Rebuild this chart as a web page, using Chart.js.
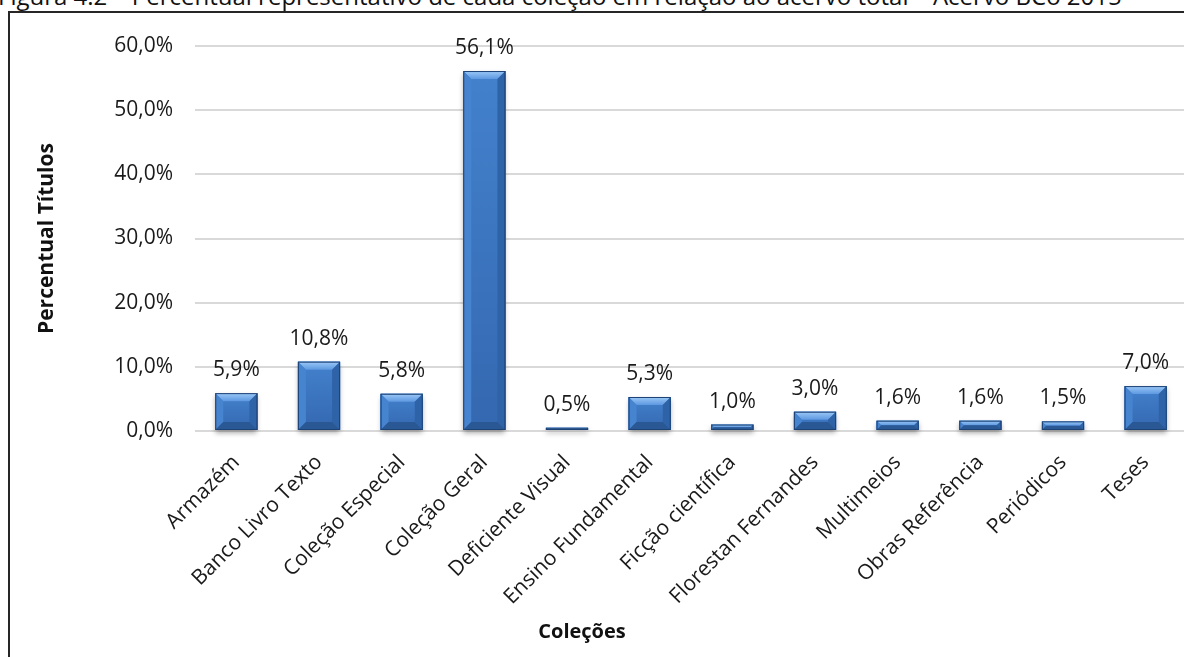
<!DOCTYPE html>
<html lang="pt-BR">
<head>
<meta charset="utf-8">
<title>Percentual por coleção</title>
<script src="https://cdn.jsdelivr.net/npm/chart.js@4"></script>
<style>
  html, body {
    margin: 0;
    padding: 0;
    width: 1184px;
    height: 657px;
    overflow: hidden;
    background: #fff;
  }
  .caption {
    position: absolute;
    left: -2px;
    top: -16px;
    font-family: "Open Sans", sans-serif;
    font-size: 24px;
    line-height: 24px;
    color: #111;
    white-space: nowrap;
  }
  .frame {
    position: absolute;
    left: 8px;
    top: 11px;
    width: 1400px;
    height: 900px;
    border-left: 2px solid #262626;
    border-top: 2px solid #262626;
  }
  .chart-wrap {
    position: absolute;
    left: 0;
    top: 0;
    width: 1192px;
    height: 657px;
  }
</style>
</head>
<body>
<div class="caption">Figura 4.2 – Percentual representativo de cada coleção em relação ao acervo total – Acervo BCo 2015</div>
<div class="frame"></div>
<div class="chart-wrap">
  <canvas id="colecoesChart" width="1192" height="657"></canvas>
</div>

<script>
const colecoes = [
  "Armazém", "Banco Livro Texto", "Coleção Especial", "Coleção Geral",
  "Deficiente Visual", "Ensino Fundamental", "Ficção científica",
  "Florestan Fernandes", "Multimeios", "Obras Referência", "Periódicos", "Teses"
];
const percentuais = [5.9, 10.8, 5.8, 56.1, 0.5, 5.3, 1.0, 3.0, 1.6, 1.6, 1.5, 7.0];
const yTicks = [0, 10, 20, 30, 40, 50, 60];

const FONT = '"Open Sans", sans-serif';

function fmtPct(v) {
  return v.toFixed(1).replace(".", ",") + "%";
}

// soft shadow behind each bar, drawn before the bars
const barShadow = {
  id: "barShadow",
  beforeDatasetsDraw(chart) {
    const ctx = chart.ctx;
    chart.getDatasetMeta(0).data.forEach((bar) => {
      const w = bar.width;
      ctx.save();
      ctx.shadowColor = "rgba(0,0,0,0.35)";
      ctx.shadowBlur = 5;
      ctx.shadowOffsetY = 3;
      ctx.fillStyle = "#2f5f9f";
      ctx.fillRect(bar.x - w / 2, bar.y, w, bar.base - bar.y);
      ctx.restore();
    });
  }
};

// bevelled faces over each bar
const barBevel = {
  id: "barBevel",
  afterDatasetsDraw(chart) {
    const ctx = chart.ctx;
    chart.getDatasetMeta(0).data.forEach((bar) => {
      const w = bar.width;
      const l = bar.x - w / 2, r = bar.x + w / 2;
      const t = bar.y, b = bar.base;
      const h = b - t;
      const s = Math.min(8, h / 2);

      const face = ctx.createLinearGradient(0, t, 0, b);
      face.addColorStop(0, "#4381cd");
      face.addColorStop(1, "#3468b0");
      ctx.fillStyle = face;
      ctx.fillRect(l, t, w, h);

      const poly = (pts, fill) => {
        ctx.beginPath();
        ctx.moveTo(pts[0][0], pts[0][1]);
        for (let i = 1; i < pts.length; i++) ctx.lineTo(pts[i][0], pts[i][1]);
        ctx.closePath();
        ctx.fillStyle = fill;
        ctx.fill();
      };

      const top = ctx.createLinearGradient(0, t, 0, t + s);
      top.addColorStop(0, "#9cc9f7");
      top.addColorStop(1, "#5d98e0");
      poly([[l, t], [r, t], [r - s, t + s], [l + s, t + s]], top);
      poly([[l, t], [l + s, t + s], [l + s, b - s], [l, b]], "#4784cf");
      poly([[r, t], [r, b], [r - s, b - s], [r - s, t + s]], "#2f63a8");
      poly([[l, b], [l + s, b - s], [r - s, b - s], [r, b]], "#2a5894");

      ctx.strokeStyle = "#1d4275";
      ctx.lineWidth = 1;
      ctx.strokeRect(l + 0.5, t + 0.5, w - 1, h - 1);
    });
  }
};

// value labels above bars
const valueLabels = {
  id: "valueLabels",
  afterDatasetsDraw(chart) {
    const ctx = chart.ctx;
    ctx.save();
    ctx.font = "21px " + FONT;
    ctx.fillStyle = "#1a1a1a";
    ctx.textAlign = "center";
    ctx.textBaseline = "alphabetic";
    chart.getDatasetMeta(0).data.forEach((bar, i) => {
      ctx.fillText(fmtPct(percentuais[i]), bar.x, bar.y - 17);
    });
    ctx.restore();
  }
};

// x axis title sits under the labels, left of the plot centre
const xAxisTitle = {
  id: "xAxisTitle",
  afterDraw(chart) {
    const ctx = chart.ctx;
    ctx.save();
    ctx.font = "bold 20px " + FONT;
    ctx.fillStyle = "#111";
    ctx.textAlign = "center";
    ctx.textBaseline = "middle";
    ctx.fillText("Coleções", 582, 632);
    ctx.restore();
  }
};

new Chart(document.getElementById("colecoesChart").getContext("2d"), {
  type: "bar",
  data: {
    labels: colecoes,
    datasets: [{
      label: "Percentual Títulos",
      data: percentuais,
      backgroundColor: "#3b75c2",
      borderWidth: 0,
      categoryPercentage: 1,
      barPercentage: 0.51
    }]
  },
  options: {
    responsive: false,
    animation: false,
    events: [],
    layout: { padding: { left: 28, right: 5, top: 46, bottom: 0 } },
    plugins: {
      legend: { display: false },
      tooltip: { enabled: false }
    },
    scales: {
      x: {
        grid: { display: false, drawTicks: false },
        border: { display: false },
        ticks: {
          color: "#1a1a1a",
          font: { family: FONT, size: 21 },
          maxRotation: 45,
          minRotation: 45,
          autoSkip: false,
          padding: 19
        },
        afterFit(scale) { scale.height = 226; }
      },
      y: {
        min: 0,
        max: 60,
        afterBuildTicks(scale) {
          scale.ticks = yTicks.map((v) => ({ value: v }));
        },
        grid: { color: "#d9d9d9", lineWidth: 2, drawTicks: false },
        border: { display: false },
        ticks: {
          color: "#1a1a1a",
          font: { family: FONT, size: 21 },
          padding: 22,
          callback: (v) => fmtPct(v)
        },
        title: {
          display: true,
          text: "Percentual Títulos",
          color: "#111",
          font: { family: FONT, size: 21, weight: "bold" },
          padding: { top: 6, bottom: 0 }
        },
        afterFit(scale) { scale.width = 167; }
      }
    }
  },
  plugins: [barShadow, barBevel, valueLabels, xAxisTitle]
});
</script>
</body>
</html>
